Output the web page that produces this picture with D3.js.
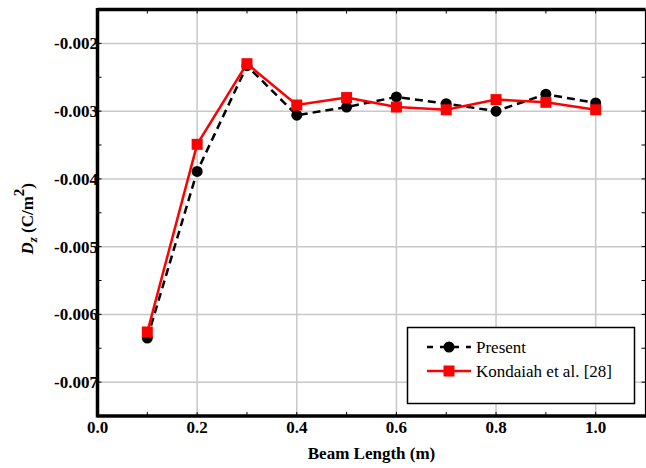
<!DOCTYPE html>
<html><head><meta charset="utf-8">
<script src="https://cdn.jsdelivr.net/npm/d3@7"></script>
<style>body{margin:0;background:#fff}svg{display:block}
text{font-family:"Liberation Serif","DejaVu Serif","Times New Roman",serif;}</style>
</head><body>
<svg id="c" width="646" height="468"></svg>
<script>
const beamLength = [0.1,0.2,0.3,0.4,0.5,0.6,0.7,0.8,0.9,1.0];
const present   = [-0.00635,-0.00389,-0.00233,-0.00306,-0.00294,-0.00279,-0.00289,-0.00300,-0.00275,-0.00288];
const kondaiah  = [-0.00626,-0.00349,-0.00230,-0.00291,-0.00280,-0.00294,-0.00298,-0.00283,-0.00287,-0.00298];
const xTicks = [0.0,0.2,0.4,0.6,0.8,1.0];
const yTicks = [-0.007,-0.006,-0.005,-0.004,-0.003,-0.002];
const seriesNames = ["Present","Kondaiah et al. [28]"];

const svg = d3.select("#c");
const L=97.5, R=645.5, T=9.5, B=416;
const x = d3.scaleLinear().domain([0,1.1]).range([L,R]);
const y = d3.scaleLinear().domain([-0.0075,-0.0015]).range([B,T]);

// gridlines
const g = svg.append("g");
g.selectAll(".gx").data(xTicks.filter(d=>d>0)).join("line")
  .attr("x1",d=>x(d)).attr("x2",d=>x(d)).attr("y1",T).attr("y2",B)
  .attr("stroke","#c8c8c8").attr("stroke-width",1.5);
g.selectAll(".gy").data(yTicks).join("line")
  .attr("y1",d=>y(d)).attr("y2",d=>y(d)).attr("x1",L).attr("x2",R)
  .attr("stroke","#c8c8c8").attr("stroke-width",1.5);

// minor ticks (inward)
const xMinor = d3.range(0,1.1001,0.1);
const yMinor = d3.range(-0.0075,-0.00149,0.0005);
g.selectAll(".mxb").data(xMinor).join("line")
  .attr("x1",d=>x(d)).attr("x2",d=>x(d)).attr("y1",B).attr("y2",B-4)
  .attr("stroke","#000").attr("stroke-width",1);
g.selectAll(".mxt").data(xMinor).join("line")
  .attr("x1",d=>x(d)).attr("x2",d=>x(d)).attr("y1",T).attr("y2",T+4)
  .attr("stroke","#000").attr("stroke-width",1);
g.selectAll(".myl").data(yMinor).join("line")
  .attr("y1",d=>y(d)).attr("y2",d=>y(d)).attr("x1",L).attr("x2",L+4)
  .attr("stroke","#000").attr("stroke-width",1);
g.selectAll(".myr").data(yMinor).join("line")
  .attr("y1",d=>y(d)).attr("y2",d=>y(d)).attr("x1",R).attr("x2",R-4)
  .attr("stroke","#000").attr("stroke-width",1);

// frame
svg.append("line").attr("x1",R).attr("x2",R).attr("y1",T).attr("y2",B).attr("stroke","#000").attr("stroke-width",1.2);
svg.append("line").attr("x1",L).attr("x2",R).attr("y1",T).attr("y2",T).attr("stroke","#000").attr("stroke-width",3.5);
svg.append("line").attr("x1",L).attr("x2",R+0.5).attr("y1",B).attr("y2",B).attr("stroke","#000").attr("stroke-width",3.5);
svg.append("line").attr("x1",L).attr("x2",L).attr("y1",T-1.5).attr("y2",B+1.5).attr("stroke","#000").attr("stroke-width",3.5);

// tick labels
svg.selectAll(".xl").data(xTicks).join("text")
  .attr("x",d=>x(d)).attr("y",433).attr("text-anchor","middle")
  .attr("font-weight","bold").attr("font-size",17)
  .text(d=>d3.format(".1f")(d));
svg.selectAll(".yl").data(yTicks).join("text")
  .attr("x",98).attr("y",d=>y(d)+6).attr("text-anchor","end")
  .attr("font-weight","bold").attr("font-size",17)
  .text(d=>"-"+d3.format(".3f")(-d));

// axis titles
svg.append("text").attr("x",x(0.55)).attr("y",459).attr("text-anchor","middle")
  .attr("font-weight","bold").attr("font-size",17)
  .text("Beam Length (m)");
const yt = svg.append("text").attr("transform","translate(33,"+((T+B)/2+6)+") rotate(-90)")
  .attr("text-anchor","middle").attr("font-weight","bold").attr("font-size",17);
yt.append("tspan").attr("font-style","italic").text("D");
yt.append("tspan").attr("font-style","italic").attr("dy",4).attr("font-size",13).text("z");
yt.append("tspan").attr("dy",-4).text(" (C/m");
yt.append("tspan").attr("dy",-9).attr("font-size",15).text("2");
yt.append("tspan").attr("dy",9).text(")");

// lines
const line = d3.line().x(d=>x(d[0])).y(d=>y(d[1]));
const pData = beamLength.map((b,i)=>[b,present[i]]);
const kData = beamLength.map((b,i)=>[b,kondaiah[i]]);
svg.append("path").datum(pData).attr("d",line).attr("fill","none")
  .attr("stroke","#000").attr("stroke-width",2.5).attr("stroke-dasharray","8,5");
svg.append("path").datum(kData).attr("d",line).attr("fill","none")
  .attr("stroke","#ff0000").attr("stroke-width",2.5);
svg.selectAll(".pc").data(pData).join("circle")
  .attr("cx",d=>x(d[0])).attr("cy",d=>y(d[1])).attr("r",5.5).attr("fill","#000");
svg.selectAll(".ks").data(kData).join("rect")
  .attr("x",d=>x(d[0])-5.5).attr("y",d=>y(d[1])-5.5).attr("width",11).attr("height",11).attr("fill","#ff0000");

// legend
const lg = svg.append("g");
lg.append("rect").attr("x",407.5).attr("y",327.5).attr("width",227).attr("height",76)
  .attr("fill","#fff").attr("stroke","#000").attr("stroke-width",1.5);
lg.append("line").attr("x1",427).attr("x2",471).attr("y1",347).attr("y2",347)
  .attr("stroke","#000").attr("stroke-width",2.5).attr("stroke-dasharray","6,7");
lg.append("circle").attr("cx",449).attr("cy",347).attr("r",5.5).attr("fill","#000");
lg.append("line").attr("x1",427).attr("x2",471).attr("y1",371).attr("y2",371)
  .attr("stroke","#ff0000").attr("stroke-width",2.5);
lg.append("rect").attr("x",443.5).attr("y",365.5).attr("width",11).attr("height",11).attr("fill","#ff0000");
lg.selectAll(".lt").data(seriesNames).join("text")
  .attr("x",476).attr("y",(d,i)=>353+i*24)
  .attr("font-size",17).text(d=>d);
</script>
</body></html>
